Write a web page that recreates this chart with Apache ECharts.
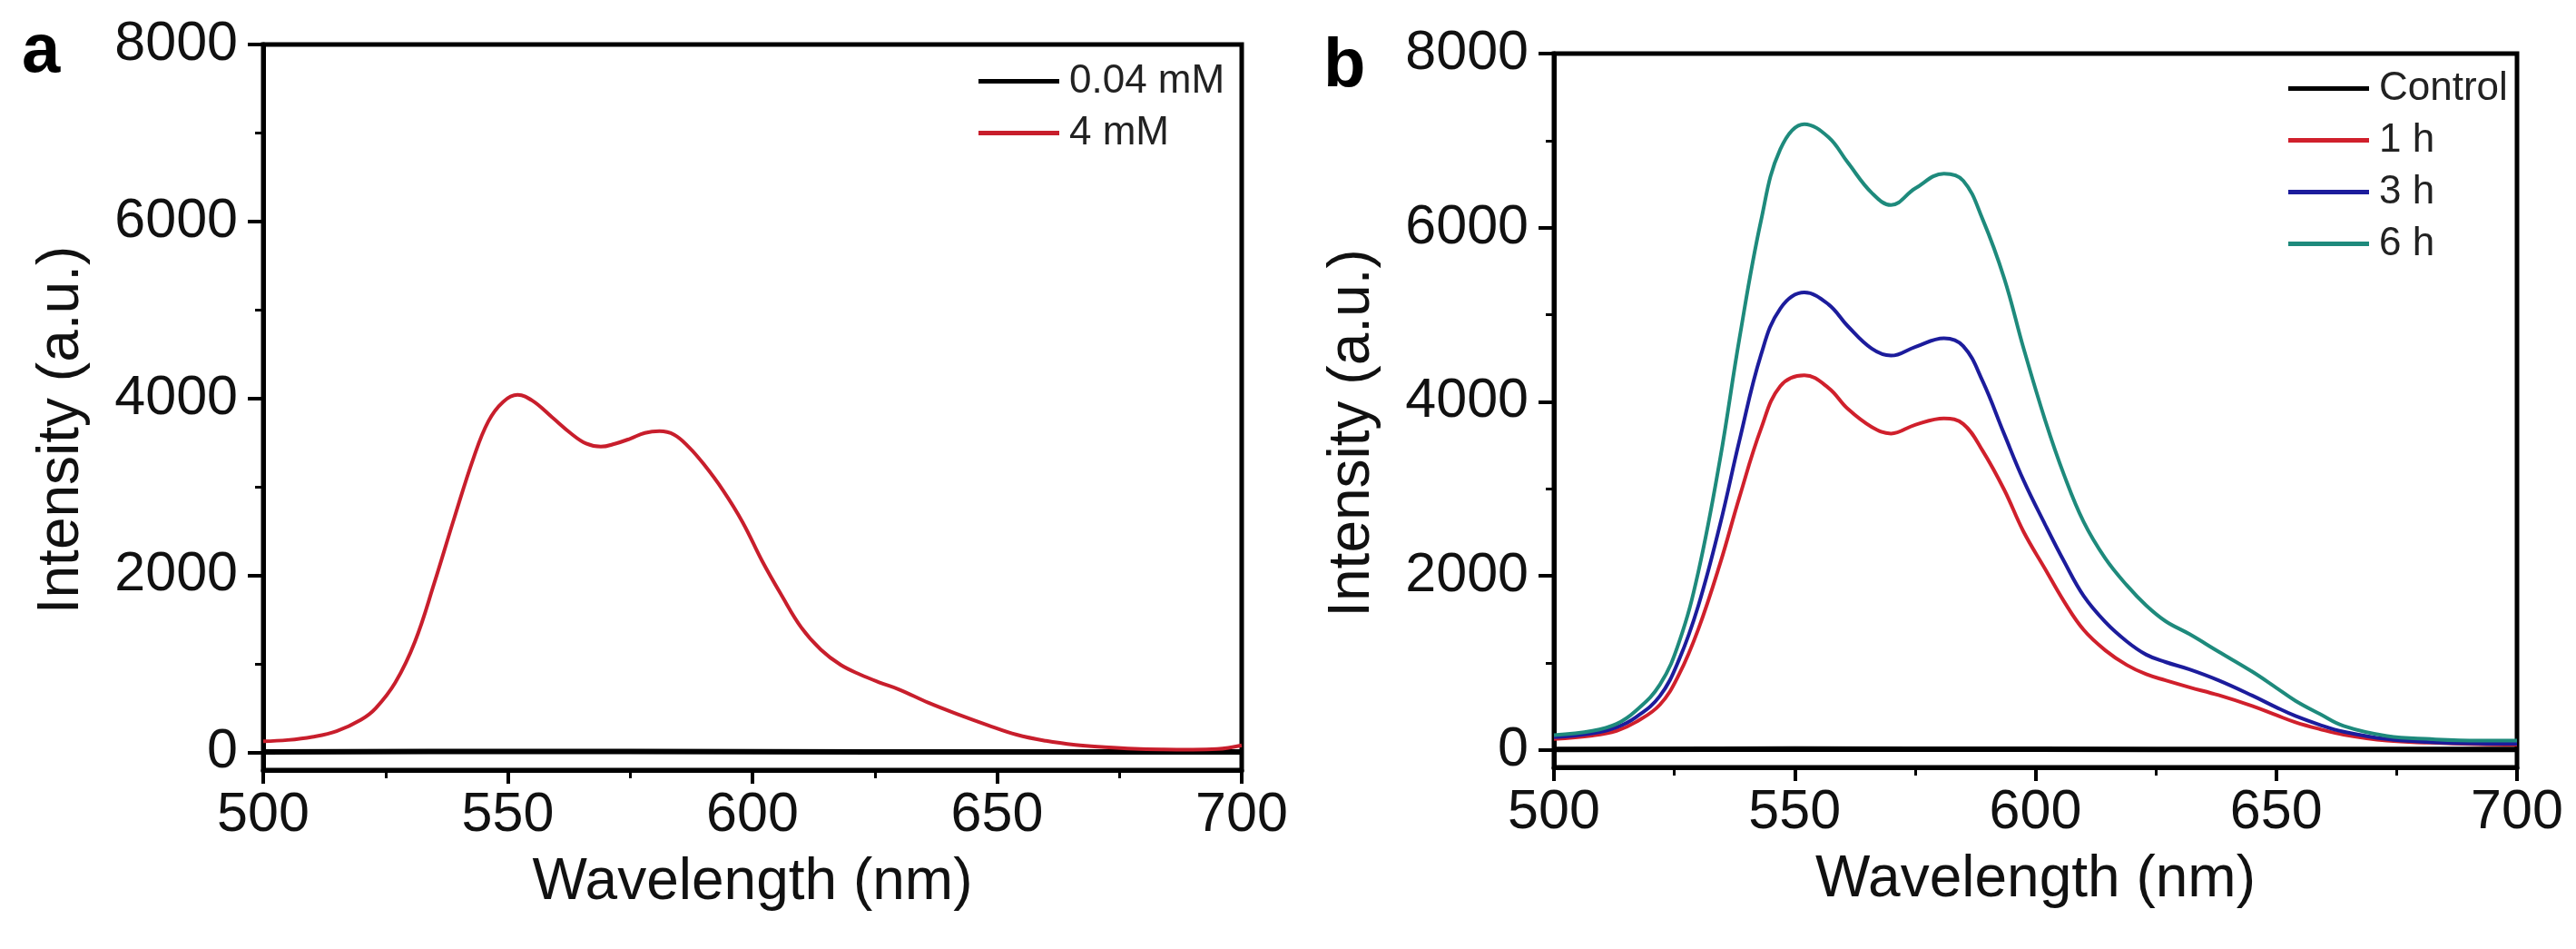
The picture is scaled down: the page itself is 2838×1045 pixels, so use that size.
<!DOCTYPE html>
<html>
<head>
    <meta charset="utf-8">
    <script src="https://cdn.jsdelivr.net/npm/echarts@6/dist/echarts.min.js"></script>
    <style>
        html, body { margin: 0; padding: 0; background: #fff; }
        #main { width: 2838px; height: 1045px; }
    </style>
</head>
<body>
<div id="main"></div>
<script type="text/javascript">
    // panel a: emission spectra at two concentrations
    var wlA = [500, 505, 510, 515, 520, 523, 527, 531, 535, 539, 543, 546, 549, 552, 555, 559, 563, 566, 569, 572,
        575, 578, 581, 584, 587, 590, 594, 598, 602, 606, 610, 614, 618, 622, 626, 630, 636, 642, 648, 654,
        660, 666, 672, 678, 684, 690, 695, 700];
    var mM4 = [125, 140, 175, 240, 370, 500, 790, 1250, 1920, 2640, 3330, 3740, 3960, 4040, 3975, 3790, 3600, 3490, 3455, 3490,
        3545, 3610, 3630, 3590, 3450, 3260, 2960, 2600, 2160, 1770, 1410, 1160, 990, 880, 790, 710, 560, 430, 310, 200,
        130, 85, 60, 42, 34, 32, 38, 80];
    var wlCtrl = [500, 550, 600, 650, 700];
    var mM004 = [5, 10, 8, 5, 5];

    // panel b: emission spectra over time
    var wlB = [500, 508, 513, 517, 522, 526, 530, 534.5, 538.5, 543, 547, 552, 557, 561, 566, 570, 575, 581, 585, 589,
        593.5, 597.5, 602, 606, 610, 614.5, 619, 623, 627, 632, 638, 645, 650, 654, 659, 664, 673, 682, 692, 700];
    var h1 = [125, 165, 220, 320, 520, 870, 1390, 2140, 2900, 3690, 4180, 4305, 4160, 3920, 3710, 3635, 3735, 3810, 3745, 3440,
        2990, 2510, 2080, 1700, 1380, 1145, 975, 870, 800, 720, 630, 505, 400, 318, 240, 175, 107, 83, 66, 60];
    var h3 = [146, 190, 260, 375, 620, 1040, 1660, 2590, 3550, 4540, 5070, 5255, 5120, 4870, 4610, 4530, 4630, 4730, 4640, 4240,
        3630, 3100, 2590, 2160, 1770, 1470, 1245, 1095, 1010, 925, 800, 625, 490, 390, 290, 210, 125, 90, 73, 70];
    var h6 = [170, 220, 300, 450, 750, 1240, 2050, 3340, 4720, 6080, 6900, 7190, 7040, 6750, 6400, 6260, 6450, 6620, 6540, 6100,
        5420, 4620, 3790, 3150, 2620, 2200, 1890, 1660, 1480, 1330, 1130, 900, 715, 565, 415, 275, 160, 125, 107, 107];
    var wlCtrlB = [500, 550, 600, 650, 700];
    var control = [5, 10, 8, 5, 5];

    var yMajor = [0, 2000, 4000, 6000, 8000];
    var yMinor = [1000, 3000, 5000, 7000];

    var FONT = 'Liberation Sans, Arial, sans-serif';

    function pairs(xs, ys) {
        var out = [];
        for (var i = 0; i < xs.length; i++) out.push([xs[i], ys[i]]);
        return out;
    }

    function plain(v) { return String(v); }

    function xAxisFor(idx) {
        return {
            type: 'value', gridIndex: idx, min: 500, max: 700, interval: 50,
            name: 'Wavelength (nm)', nameLocation: 'middle', nameGap: 92,
            nameTextStyle: { fontSize: 64, fontFamily: FONT, color: '#111' },
            axisLine: { onZero: false, lineStyle: { color: '#000', width: 5 } },
            axisTick: { inside: false, length: 15, lineStyle: { color: '#000', width: 4 } },
            minorTick: { show: true, splitNumber: 2, length: 9, lineStyle: { color: '#000', width: 3 } },
            axisLabel: { fontSize: 61, fontFamily: FONT, color: '#111', margin: 20, formatter: plain },
            splitLine: { show: false }
        };
    }

    function yAxesFor(idx) {
        return [{
            type: 'value', gridIndex: idx, min: -200, max: 8000,
            name: 'Intensity (a.u.)', nameLocation: 'middle', nameGap: 190,
            nameTextStyle: { fontSize: 64, fontFamily: FONT, color: '#111', padding: [0, 50, 0, 0] },
            axisLine: { onZero: false, lineStyle: { color: '#000', width: 5 } },
            axisTick: { length: 17, customValues: yMajor, lineStyle: { color: '#000', width: 4 } },
            axisLabel: { fontSize: 61, fontFamily: FONT, color: '#111', margin: 28, customValues: yMajor, formatter: plain },
            splitLine: { show: false }
        }, {
            type: 'value', gridIndex: idx, min: -200, max: 8000, position: 'left',
            axisLine: { show: false, onZero: false },
            axisTick: { length: 9, customValues: yMinor, lineStyle: { color: '#000', width: 3 } },
            axisLabel: { show: false },
            splitLine: { show: false }
        }];
    }

    function lineSeries(name, data, color, width, xi, yi) {
        return {
            name: name, type: 'line', data: data, xAxisIndex: xi, yAxisIndex: yi,
            showSymbol: false, symbol: 'none', smooth: 0.4,
            lineStyle: { color: color, width: width },
            itemStyle: { color: color }
        };
    }

    var legendBase = {
        orient: 'vertical', icon: 'rect', itemWidth: 89, itemHeight: 5, itemGap: 12,
        textStyle: { fontSize: 44, fontFamily: FONT, color: '#222', lineHeight: 45, padding: [0, 0, 0, 6] }
    };

    var myChart = echarts.init(document.getElementById('main'));
    var option = {
        backgroundColor: '#fff',
        animation: false,
        grid: [
            { left: 290, right: 1470, top: 49, bottom: 197, show: true, borderColor: '#000', borderWidth: 5 },
            { left: 1712, right: 65, top: 59, bottom: 200, show: true, borderColor: '#000', borderWidth: 5 }
        ],
        xAxis: [xAxisFor(0), xAxisFor(1)],
        yAxis: yAxesFor(0).concat(yAxesFor(1)),
        legend: [
            Object.assign({}, legendBase, { left: 1073, top: 62, data: ['0.04 mM', '4 mM'] }),
            Object.assign({}, legendBase, { left: 2516, top: 70, data: ['Control', '1 h', '3 h', '6 h'] })
        ],
        graphic: [
            { type: 'text', left: 24, top: 20, style: { text: 'a', font: 'bold 76px ' + FONT, fill: '#000' } },
            { type: 'text', left: 1458, top: 36, style: { text: 'b', font: 'bold 76px ' + FONT, fill: '#000' } }
        ],
        series: [
            lineSeries('0.04 mM', pairs(wlCtrl, mM004), '#000', 6, 0, 0),
            lineSeries('4 mM', pairs(wlA, mM4), '#c81e2c', 4, 0, 0),
            lineSeries('Control', pairs(wlCtrlB, control), '#000', 6, 1, 2),
            lineSeries('1 h', pairs(wlB, h1), '#d0202c', 4, 1, 2),
            lineSeries('3 h', pairs(wlB, h3), '#1c1c9c', 4, 1, 2),
            lineSeries('6 h', pairs(wlB, h6), '#1e8a7c', 4, 1, 2)
        ]
    };
    myChart.setOption(option);
</script>
</body>
</html>
